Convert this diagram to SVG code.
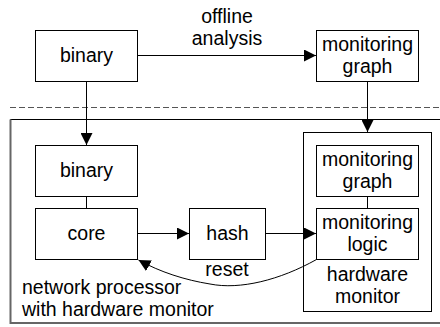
<svg xmlns="http://www.w3.org/2000/svg" width="440" height="327" viewBox="0 0 440 327">
  <style>
    .box { fill: #fff; stroke: #000; stroke-width: 1; }
    .frame { fill: none; stroke: #000; stroke-width: 1; }
    .edge { fill: none; stroke: #000; stroke-width: 1; }
    text { font-family: "Liberation Sans", Arial, sans-serif; font-size: 19.5px; fill: #000; }
    .c { text-anchor: middle; }
  </style>
  <defs>
    <marker id="arrow" viewBox="0 0 12 12" refX="12" refY="6" markerWidth="12" markerHeight="12" markerUnits="userSpaceOnUse" orient="auto">
      <path d="M0,0 L12,6 L0,12 Z" fill="#000"/>
    </marker>
  </defs>

  <rect width="440" height="327" fill="#fff"/>

  <!-- offline / on-chip separator -->
  <line x1="10" y1="107.5" x2="440" y2="107.5" stroke="#555" stroke-width="1" stroke-dasharray="6,3"/>

  <!-- network processor enclosure -->
  <g id="network-processor">
    <path d="M10.5,323 V119.5 H440" class="frame"/>
    <path d="M10.5,119.5 V323 H440" fill="none" stroke="#666" stroke-width="2"/>
    <text x="22" y="294">network processor</text>
    <text x="22" y="316">with hardware monitor</text>
  </g>

  <g id="hardware-monitor">
    <rect x="303.5" y="132.5" width="128" height="179" class="box"/>
    <text x="367.5" y="281" class="c">hardware</text>
    <text x="367.5" y="303" class="c">monitor</text>
  </g>

  <g id="binary-offline">
    <rect x="35.5" y="30.5" width="102" height="51" class="box"/>
    <text x="86.5" y="62" class="c">binary</text>
  </g>

  <g id="graph-offline">
    <rect x="316.5" y="30.5" width="102" height="51" class="box"/>
    <text x="367.5" y="51" class="c">monitoring</text>
    <text x="367.5" y="73" class="c">graph</text>
  </g>

  <g id="binary">
    <rect x="35.5" y="145.5" width="102" height="51" class="box"/>
    <text x="86.5" y="177" class="c">binary</text>
  </g>

  <g id="core">
    <rect x="35.5" y="208.5" width="102" height="51" class="box"/>
    <text x="86.5" y="240" class="c">core</text>
  </g>

  <g id="hash">
    <rect x="189.5" y="208.5" width="76" height="51" class="box"/>
    <text x="227.5" y="240" class="c">hash</text>
  </g>

  <g id="graph">
    <rect x="316.5" y="145.5" width="102" height="51" class="box"/>
    <text x="367.5" y="166" class="c">monitoring</text>
    <text x="367.5" y="188" class="c">graph</text>
  </g>

  <g id="logic">
    <rect x="316.5" y="208.5" width="102" height="51" class="box"/>
    <text x="367.5" y="229" class="c">monitoring</text>
    <text x="367.5" y="251" class="c">logic</text>
  </g>

  <g id="connectors">
    <line x1="137.5" y1="55.5" x2="316" y2="55.5" class="edge" marker-end="url(#arrow)"/>
    <text x="227" y="23" class="c">offline</text>
    <text x="227" y="45" class="c">analysis</text>
    <line x1="86.5" y1="81.5" x2="86.5" y2="145" class="edge" marker-end="url(#arrow)"/>
    <line x1="367.5" y1="81.5" x2="367.5" y2="132" class="edge" marker-end="url(#arrow)"/>
    <line x1="86.5" y1="196.5" x2="86.5" y2="208.5" class="edge"/>
    <line x1="367.5" y1="196.5" x2="367.5" y2="208.5" class="edge"/>
    <line x1="137.5" y1="233.5" x2="189" y2="233.5" class="edge" marker-end="url(#arrow)"/>
    <line x1="265.5" y1="233.5" x2="316" y2="233.5" class="edge" marker-end="url(#arrow)"/>
    <path d="M316.5,259.5 C280,280 240,290 210,284 C185,280 160,272 138.5,260" class="edge" marker-end="url(#arrow)"/>
    <text x="227" y="276" class="c">reset</text>
  </g>
</svg>
